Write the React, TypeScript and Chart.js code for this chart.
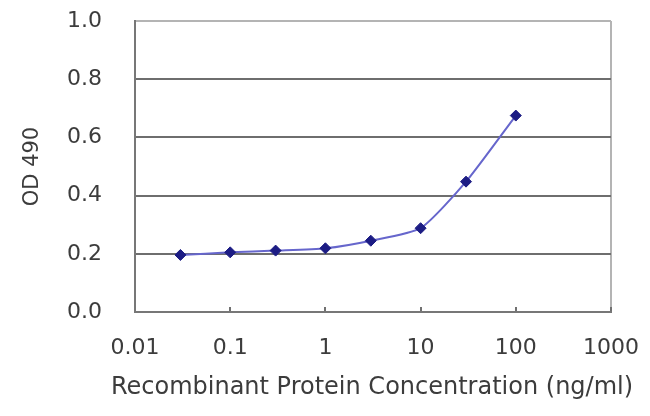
import React, { useEffect, useRef } from "react";
import { Chart, registerables } from "chart.js";

Chart.register(...registerables);

const concentrations = [0.03, 0.1, 0.3, 1, 3, 10, 30, 100];
const odValues = [0.196, 0.205, 0.211, 0.219, 0.245, 0.288, 0.448, 0.675];
const xTickValues = [0.01, 0.1, 1, 10, 100, 1000];
const yTickValues = [0, 0.2, 0.4, 0.6, 0.8, 1.0];
const xTitle = "Recombinant Protein Concentration (ng/ml)";
const yTitle = "OD 490";

const textColor = "#3c3c3c";

const xTitlePlugin = {
  id: "xTitlePlugin",
  afterDraw(chart: any) {
    const ctx = chart.ctx;
    const area = chart.chartArea;
    ctx.save();
    ctx.font = "24px 'DejaVu Sans'";
    ctx.fillStyle = textColor;
    ctx.textAlign = "center";
    ctx.textBaseline = "middle";
    ctx.fillText(xTitle, (area.left + area.right) / 2 - 1, area.bottom + 76);
    ctx.restore();
  },
};

export default function App() {
  const ref = useRef<HTMLCanvasElement | null>(null);

  useEffect(() => {
    if (!ref.current) return;
    const chart = new Chart(ref.current, {
      type: "line",
      data: {
        datasets: [
          {
            data: concentrations.map((c, i) => ({ x: c, y: odValues[i] })),
            borderColor: "#6666cc",
            borderWidth: 2,
            pointStyle: "rectRot",
            pointRadius: 5.5,
            pointBackgroundColor: "#1c1c84",
            pointBorderColor: "#1c1c84",
            pointBorderWidth: 1,
            tension: 0.2,
            fill: false,
          },
        ],
      },
      options: {
        animation: false,
        responsive: false,
        devicePixelRatio: 1,
        layout: { padding: { top: 21, right: 39, left: 0, bottom: 0 } },
        plugins: {
          legend: { display: false },
          tooltip: { enabled: false },
        },
        scales: {
          x: {
            type: "logarithmic",
            min: 0.01,
            max: 1000,
            afterBuildTicks: (scale: any) => {
              scale.ticks = xTickValues.map((v) => ({ value: v }));
            },
            afterFit: (scale: any) => {
              scale.height = 104;
              scale.paddingLeft = 0;
              scale.paddingRight = 0;
            },
            ticks: {
              autoSkip: false,
              maxRotation: 0,
              padding: 28,
              color: textColor,
              font: { family: "DejaVu Sans", size: 22 },
              callback: (v: any) => String(v),
            },
            grid: {
              drawTicks: true,
              tickLength: -5,
              tickColor: "#707070",
              tickWidth: 2,
              lineWidth: 2,
              color: (ctx: any) =>
                ctx.index === xTickValues.length - 1 ? "#b4b4b4" : "rgba(0,0,0,0)",
            },
            border: { display: true, color: "#777777", width: 2 },
            title: { display: false },
          },
          y: {
            min: 0,
            max: 1,
            afterBuildTicks: (scale: any) => {
              scale.ticks = yTickValues.map((v) => ({ value: v }));
            },
            afterFit: (scale: any) => {
              scale.width = 135;
              scale.paddingTop = 0;
              scale.paddingBottom = 0;
            },
            ticks: {
              padding: 33,
              color: textColor,
              font: { family: "DejaVu Sans", size: 22 },
              callback: (v: any) => Number(v).toFixed(1),
            },
            grid: {
              drawTicks: false,
              lineWidth: 2,
              color: (ctx: any) =>
                ctx.tick && ctx.tick.value === 1 ? "#b4b4b4" : "#6e6e6e",
            },
            border: { display: true, color: "#777777", width: 2 },
            title: {
              display: true,
              text: yTitle,
              color: textColor,
              font: { family: "DejaVu Sans", size: 21 },
              padding: { top: 20, bottom: 0 },
            },
          },
        },
      },
      plugins: [xTitlePlugin],
    });
    return () => chart.destroy();
  }, []);

  return (
    <div style={{ position: "fixed", left: 0, top: 0, width: 650, height: 416, background: "#ffffff" }}>
      <canvas ref={ref} width={650} height={416} style={{ width: 650, height: 416 }} />
    </div>
  );
}
